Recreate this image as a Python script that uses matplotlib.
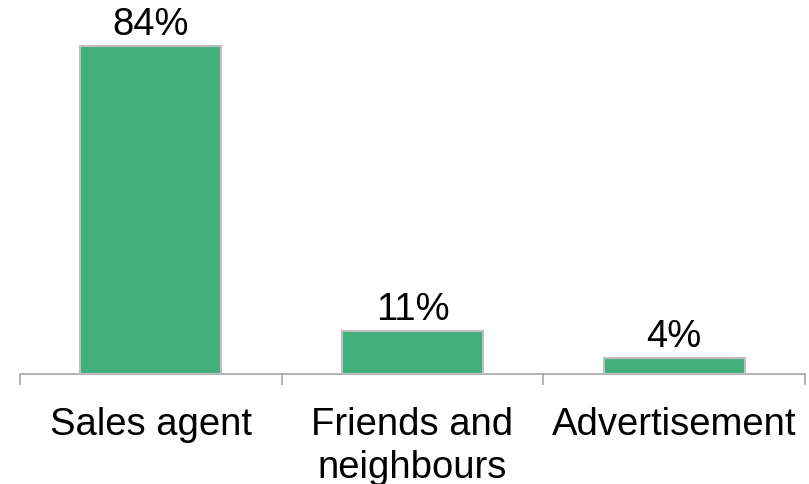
import matplotlib
matplotlib.use('Agg')
from matplotlib import pyplot as plt
from matplotlib.ticker import FixedLocator

categories = ['Sales agent', 'Friends and\nneighbours', 'Advertisement']
shares = [84, 11, 4]
value_labels = ['84%', '11%', '4%']

plt.rcParams['font.family'] = ['Liberation Sans', 'DejaVu Sans']

fig = plt.figure(figsize=(8.09, 4.85), dpi=100)
ax = fig.add_axes([20 / 809, 110 / 485, 785 / 809, 351 / 485])

x_pos = range(len(categories))
bars = ax.bar(x_pos, shares, width=0.54, color='#43AF7C', edgecolor='#BFBFBF', linewidth=1.5, zorder=3)

for bar, txt in zip(bars, value_labels):
    ax.annotate(txt, (bar.get_x() + bar.get_width() / 2, bar.get_height()),
                xytext=(0, 3), textcoords='offset points',
                ha='center', va='bottom', fontsize=27.5)

ax.set_xlim(-0.5, 2.5)
ax.set_ylim(0, 90)

# tick marks sit between categories, labels under the bars
ax.xaxis.set_major_locator(FixedLocator([-0.5, 0.5, 1.5, 2.5]))
ax.xaxis.set_major_formatter(plt.NullFormatter())
ax.xaxis.set_minor_locator(FixedLocator(list(x_pos)))
ax.set_xticklabels(categories, minor=True, fontsize=27.5, linespacing=1.25)
ax.tick_params(axis='x', which='major', length=8, width=1.2, color='#A6A6A6', direction='out')
ax.tick_params(axis='x', which='minor', length=0, pad=23)

ax.set_yticks([])
for side in ['top', 'right', 'left']:
    ax.spines[side].set_visible(False)
ax.spines['bottom'].set_color('#A6A6A6')
ax.spines['bottom'].set_linewidth(1.2)

plt.savefig('out.png', dpi=100)
